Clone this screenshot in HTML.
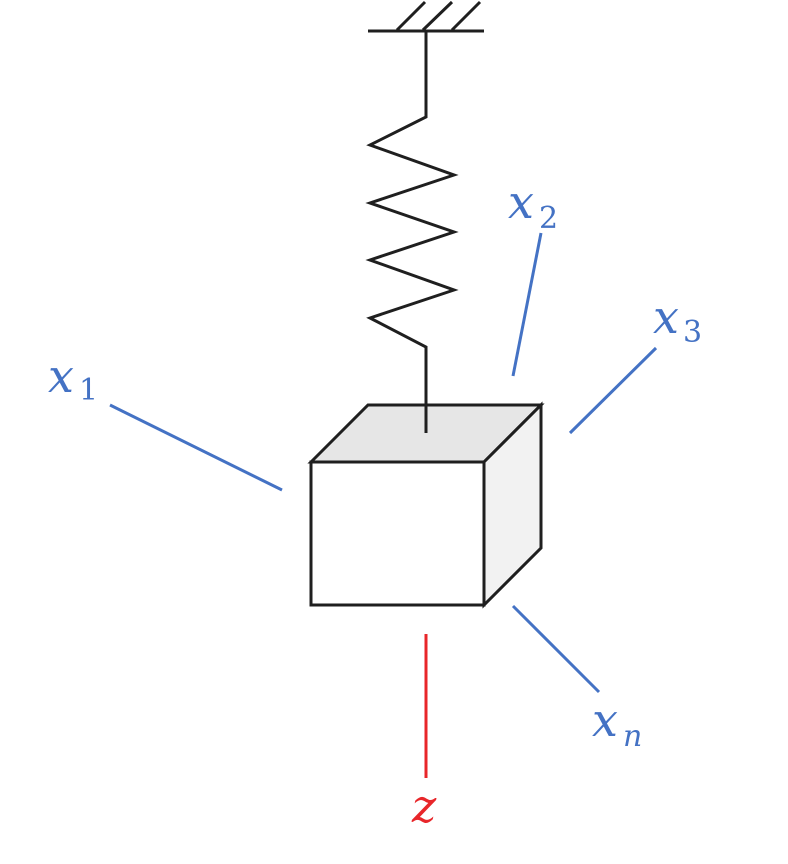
<!DOCTYPE html>
<html><head><style>body{margin:0;background:#fff}</style></head><body>
<svg width="788" height="859" viewBox="0 0 788 859" xmlns="http://www.w3.org/2000/svg">
<g stroke="#1f1f1f" stroke-width="3" fill="none">
<line x1="368" y1="31" x2="484" y2="31"/>
<line x1="397" y1="30" x2="425" y2="2"/>
<line x1="423" y1="30" x2="452" y2="2"/>
<line x1="452" y1="30" x2="480" y2="2"/>
<polyline points="426,31 426,117 370,145 454,175 370,203 454,232 370,260 454,290 370,318 426,347 426,405"/>
</g>
<g stroke="#1f1f1f" stroke-width="3" stroke-linejoin="miter">
<polygon points="311,462 368,405 541,405 484,462" fill="#e6e6e6"/>
<polygon points="484,462 541,405 541,548 484,605" fill="#f2f2f2"/>
<rect x="311" y="462" width="173" height="143" fill="#fff"/>
<line x1="426" y1="405" x2="426" y2="433"/>
</g>
<g stroke="#4472C4" stroke-width="3">
<line x1="110" y1="405" x2="282" y2="490"/>
<line x1="541" y1="233" x2="513" y2="376"/>
<line x1="656" y1="348" x2="570" y2="433"/>
<line x1="513" y1="606" x2="599" y2="692"/>
</g>
<line x1="426" y1="634" x2="426" y2="778" stroke="#e8262a" stroke-width="3"/>
<g font-family="DejaVu Serif, serif" fill="#4472C4">
<text x="48" y="392" font-size="46" font-style="italic">x</text><text x="79" y="400" font-size="30">1</text>
<text x="508" y="218" font-size="46" font-style="italic">x</text><text x="539" y="228" font-size="30">2</text>
<text x="653" y="333" font-size="46" font-style="italic">x</text><text x="683" y="342" font-size="30">3</text>
<text x="592" y="736" font-size="46" font-style="italic">x</text><text x="623" y="746" font-size="30" font-style="italic">n</text>
</g>
<text x="412" y="822" font-family="DejaVu Serif, serif" font-style="italic" font-size="46" fill="#e8262a">z</text>
</svg>
</body></html>
